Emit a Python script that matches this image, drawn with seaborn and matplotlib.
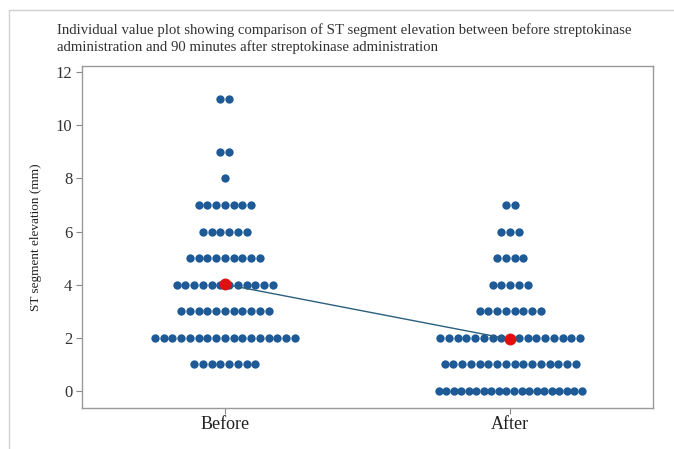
import numpy as np
import pandas as pd
import matplotlib
matplotlib.use("Agg")
import matplotlib.pyplot as plt
import seaborn as sns
from matplotlib.lines import Line2D

# Data: value -> count of patients at that value
groups = ["Before", "After"]
before_values = [11, 9, 8, 7, 6, 5, 4, 3, 2, 1]
before_counts = [2, 2, 1, 7, 6, 9, 12, 11, 17, 8]
after_values = [7, 6, 5, 4, 3, 2, 1, 0]
after_counts = [2, 3, 4, 5, 8, 17, 16, 20]
y_ticks = [0, 2, 4, 6, 8, 10, 12]

title_line1 = "Individual value plot showing comparison of ST segment elevation between before streptokinase"
title_line2 = "administration and 90 minutes after streptokinase administration"
y_label = "ST segment elevation (mm)"

rows = []
for v, c in zip(before_values, before_counts):
    rows += [("Before", v)] * c
for v, c in zip(after_values, after_counts):
    rows += [("After", v)] * c
df = pd.DataFrame(rows, columns=["group", "value"])

sns.set_style("white")
plt.rcParams["font.family"] = ["Liberation Serif", "DejaVu Serif"]

fig = plt.figure(figsize=(6.74, 4.49), dpi=100)
ax = fig.add_axes([0.1217, 0.0913, 0.9688 - 0.1217, 0.853 - 0.0913])

dot_color = "#1d5a96"
sns.swarmplot(data=df, x="group", y="value", order=groups, ax=ax,
              color=dot_color, size=6.0, marker="o", linewidth=0, zorder=2)

ax.set_xlim(-0.5, 1.5)
ax.set_ylim(-0.64, 12.23)

# let seaborn compute the swarm, then center each row on its category
# (Minitab-style symmetric rows, overlapping when a row gets too wide) and freeze it
max_half_width = 0.25
fig.canvas.draw()
for coll in list(ax.collections):
    offs = coll.get_offsets()
    if len(offs) == 0:
        continue
    offs = np.array(offs, dtype=float)
    center = np.round(np.median(offs[:, 0]))
    for yv in np.unique(offs[:, 1]):
        m = offs[:, 1] == yv
        xs = offs[m, 0] - offs[m, 0].mean()
        half = np.abs(xs).max()
        if half > max_half_width:
            xs = xs * (max_half_width / half)
        offs[m, 0] = center + xs
    if "draw" in coll.__dict__:
        del coll.__dict__["draw"]
    coll.set_offsets(offs)

# mean connect line
sns.pointplot(data=df, x="group", y="value", order=groups, ax=ax,
              estimator="mean", errorbar=None, color="#2b5f7e",
              markers="", linewidth=1.0, zorder=3)
sns.pointplot(data=df, x="group", y="value", order=groups, ax=ax,
              estimator="mean", errorbar=None, color="#e01010",
              markers="o", markersize=6.5, linestyle="none", zorder=4)

ax.set_xlim(-0.5, 1.5)
ax.set_ylim(-0.64, 12.23)
ax.set_yticks(y_ticks)
ax.set_xlabel("")
ax.set_ylabel(y_label, fontsize=9.5, color="#222222", labelpad=10)
ax.tick_params(axis="y", which="both", left=True, length=4, width=0.8,
               color="#888888", labelsize=12, labelcolor="#333333", pad=3)
ax.tick_params(axis="x", which="both", bottom=True, length=4, width=0.8,
               color="#888888", labelsize=13, labelcolor="#222222", pad=2)
for s in ax.spines.values():
    s.set_color("#999999")
    s.set_linewidth(1.0)

fig.text(57 / 674, 1 - 30 / 449, title_line1, fontsize=10.6, color="#333333",
         va="center", ha="left")
fig.text(57 / 674, 1 - 47 / 449, title_line2, fontsize=10.6, color="#333333",
         va="center", ha="left")

# outer frame lines
fig.add_artist(Line2D([9 / 674, 9 / 674], [0, 1 - 10 / 449], transform=fig.transFigure,
                      color="#d0d0d0", linewidth=1.0))
fig.add_artist(Line2D([9 / 674, 1], [1 - 10 / 449, 1 - 10 / 449], transform=fig.transFigure,
                      color="#d0d0d0", linewidth=1.0))

fig.savefig("out.png", dpi=100)
